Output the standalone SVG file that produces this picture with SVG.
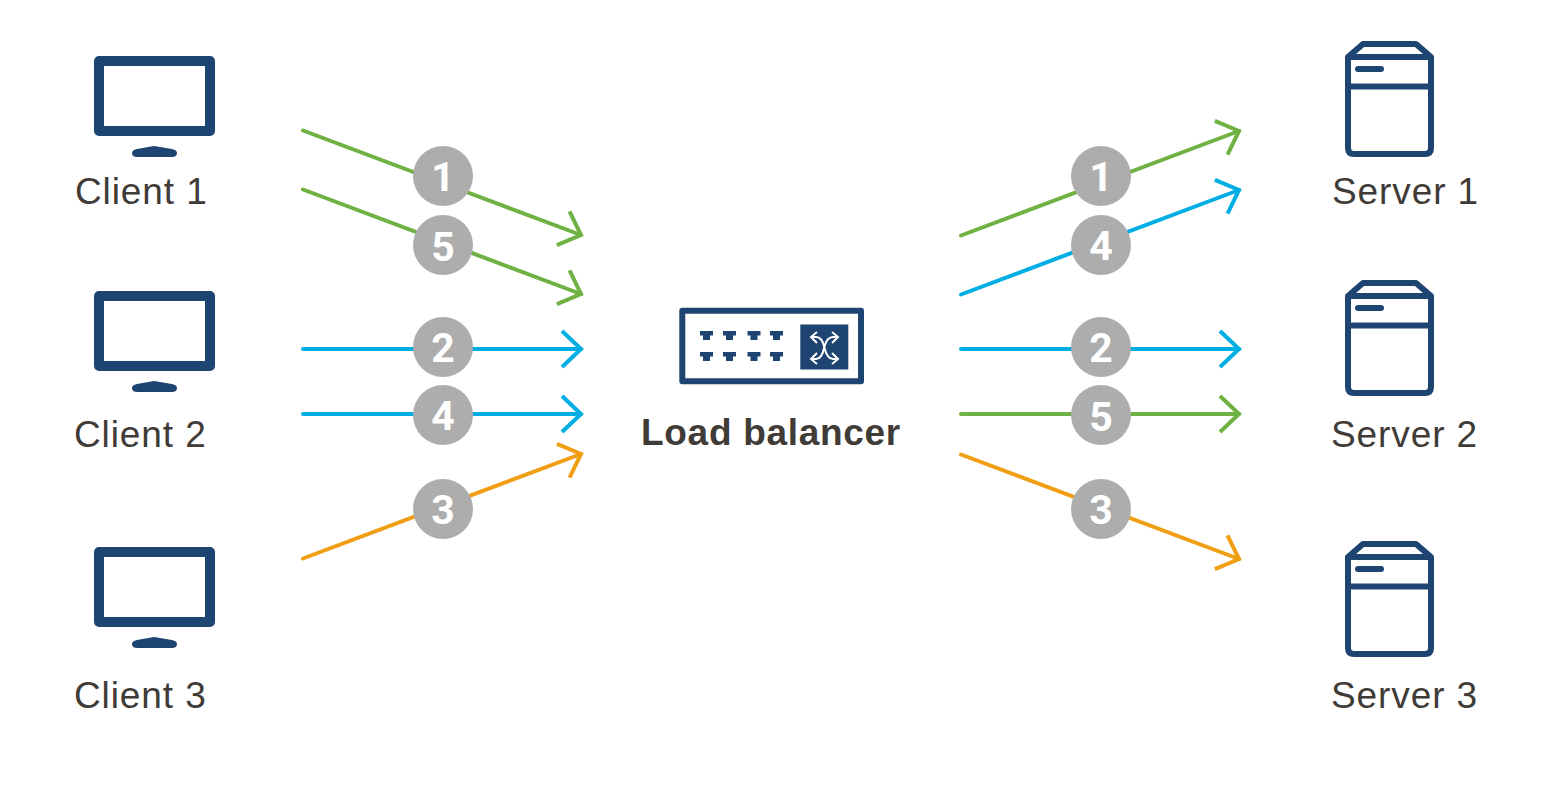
<svg xmlns="http://www.w3.org/2000/svg" width="1551" height="786" viewBox="0 0 1551 786">
<style>
.lbl{font-family:"Liberation Sans",Arial,sans-serif;font-size:37px;letter-spacing:.9px;fill:#3f3b37}
.lb{font-family:"Liberation Sans",Arial,sans-serif;font-size:37px;letter-spacing:.7px;font-weight:700;fill:#3f3b37}
.num{font-family:Roboto,"Liberation Sans",sans-serif;font-size:41px;font-weight:700;fill:#fff;text-anchor:middle}
.badge{fill:#adadad}
.c{fill:none;stroke-width:4;stroke-linecap:round}
.g{stroke:#6fb243}.b{stroke:#00aee3}.o{stroke:#f09e14}
.ic{fill:none;stroke:#1e4471;stroke-linejoin:round}
.fill{fill:#1e4471}
</style>
<defs>
<marker id="ag" markerUnits="userSpaceOnUse" markerWidth="60" markerHeight="60" refX="30" refY="30" viewBox="0 0 60 60" orient="auto"><path d="M11,12 L30,30 L11,48" fill="none" stroke="#6fb243" stroke-width="4"/></marker>
<marker id="ab" markerUnits="userSpaceOnUse" markerWidth="60" markerHeight="60" refX="30" refY="30" viewBox="0 0 60 60" orient="auto"><path d="M11,12 L30,30 L11,48" fill="none" stroke="#00aee3" stroke-width="4"/></marker>
<marker id="ao" markerUnits="userSpaceOnUse" markerWidth="60" markerHeight="60" refX="30" refY="30" viewBox="0 0 60 60" orient="auto"><path d="M11,12 L30,30 L11,48" fill="none" stroke="#f09e14" stroke-width="4"/></marker>
<g id="mon">
<rect x="99" y="61" width="111" height="70" class="ic" stroke-width="10"/>
<path class="fill" d="M137,149 L154,146 L172,149 Q177,150 177,153 Q177,157 172,157 L137,157 Q132,157 132,153 Q132,150 137,149Z"/>
</g>
<g id="srv">
<path class="ic" stroke-width="6" d="M1348,57 L1363,44 L1416,44 L1431,57 L1431,148 Q1431,154 1425,154 L1354,154 Q1348,154 1348,148Z M1348,57 L1431,57 M1348,86.500 L1431,86.500"/>
<rect class="fill" x="1355" y="66" width="29" height="6" rx="3"/>
</g>
<path id="t" class="fill" d="M-6.500,0 H6.500 V4.500 H3.500 V9 H-3.500 V4.500 H-6.500Z"/>
</defs>
<g id="connectors">
<path class="c g" marker-end="url(#ag)" d="M303,130.500 L581,235"/>
<path class="c g" marker-end="url(#ag)" d="M303,189.500 L581,294"/>
<path class="c b" marker-end="url(#ab)" d="M303,349 L581,349"/>
<path class="c b" marker-end="url(#ab)" d="M303,414 L581,414"/>
<path class="c o" marker-end="url(#ao)" d="M303,558.500 L581,454"/>
<path class="c g" marker-end="url(#ag)" d="M961,235.500 L1239,131"/>
<path class="c b" marker-end="url(#ab)" d="M961,294.500 L1239,190"/>
<path class="c b" marker-end="url(#ab)" d="M961,349 L1239,349"/>
<path class="c g" marker-end="url(#ag)" d="M961,414 L1239,414"/>
<path class="c o" marker-end="url(#ao)" d="M961,454.500 L1239,559"/>
</g>
<g id="client1"><use href="#mon"/><text class="lbl" x="75" y="204">Client 1</text></g>
<g id="client2"><use href="#mon" y="235"/><text class="lbl" x="74" y="447">Client 2</text></g>
<g id="client3"><use href="#mon" y="491"/><text class="lbl" x="74" y="708">Client 3</text></g>
<g id="server1"><use href="#srv"/><text class="lbl" x="1332" y="204">Server 1</text></g>
<g id="server2"><use href="#srv" y="239"/><text class="lbl" x="1331" y="447">Server 2</text></g>
<g id="server3"><use href="#srv" y="500"/><text class="lbl" x="1331" y="708">Server 3</text></g>
<g id="load-balancer">
<rect x="682.300" y="310.700" width="178.700" height="70.600" fill="#fff" class="ic" stroke-width="6"/>
<use href="#t" x="706.500" y="331"/><use href="#t" x="729.500" y="331"/><use href="#t" x="754" y="331"/><use href="#t" x="776.500" y="331"/>
<use href="#t" x="706.500" y="352"/><use href="#t" x="729.500" y="352"/><use href="#t" x="754" y="352"/><use href="#t" x="776.500" y="352"/>
<rect class="fill" x="800.300" y="324.500" width="48" height="45"/>
<path fill="none" stroke="#fff" stroke-width="2" d="M812,337 H816 Q822,337 824.300,347 Q827,359 833,359 H837 M837,337 H833 Q827,337 824.300,347 Q822,359 816,359 H812 M817,332 L811,337 L817,343 M832,332 L838,337 L832,343 M817,353 L811,359 L817,364 M832,353 L838,359 L832,364"/>
<text class="lb" x="771" y="445" text-anchor="middle">Load balancer</text>
</g>
<g id="badges">
<circle class="badge" cx="443" cy="176" r="30"/><text class="num" x="443" y="191">1</text>
<circle class="badge" cx="443" cy="245" r="30"/><text class="num" x="443" y="261">5</text>
<circle class="badge" cx="443" cy="347" r="30"/><text class="num" x="443" y="362">2</text>
<circle class="badge" cx="443" cy="415" r="30"/><text class="num" x="443" y="430">4</text>
<circle class="badge" cx="443" cy="509" r="30"/><text class="num" x="443" y="524">3</text>
<circle class="badge" cx="1101" cy="176" r="30"/><text class="num" x="1101" y="191">1</text>
<circle class="badge" cx="1101" cy="245" r="30"/><text class="num" x="1101" y="260">4</text>
<circle class="badge" cx="1101" cy="347" r="30"/><text class="num" x="1101" y="362">2</text>
<circle class="badge" cx="1101" cy="415" r="30"/><text class="num" x="1101" y="431">5</text>
<circle class="badge" cx="1101" cy="509" r="30"/><text class="num" x="1101" y="524">3</text>
</g>
</svg>
